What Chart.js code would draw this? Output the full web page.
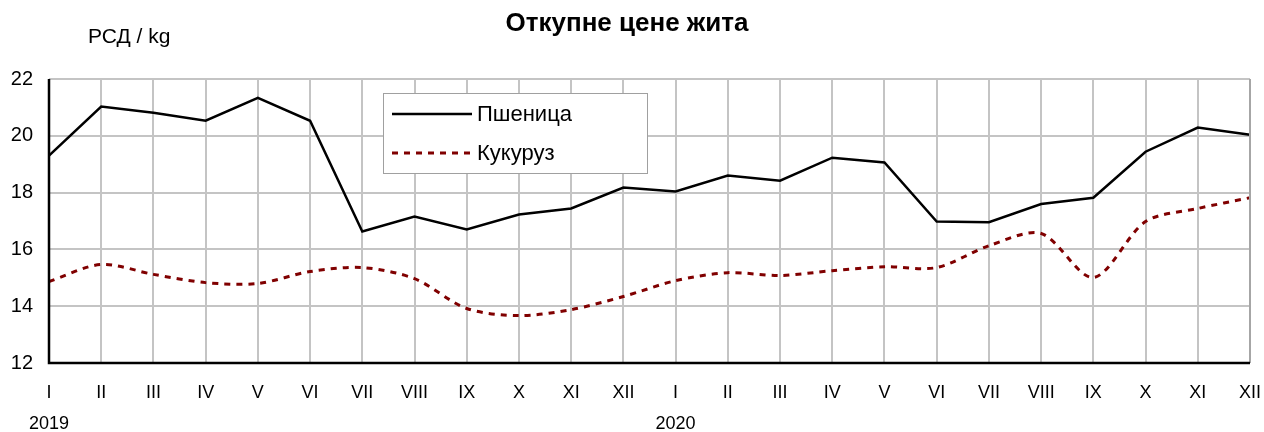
<!DOCTYPE html>
<html>
<head>
<meta charset="utf-8">
<script src="https://cdn.jsdelivr.net/npm/chart.js@4.4.1/dist/chart.umd.min.js"></script>
<style>
html,body{margin:0;padding:0;background:#fff;}
#wrap{width:1264px;height:432px;position:relative;}
</style>
</head>
<body>
<div id="wrap"><canvas id="c" width="1264" height="432"></canvas></div>
<script>
const months = ["I","II","III","IV","V","VI","VII","VIII","IX","X","XI","XII"];
const years = ["2019","2020"];
const wheat = [19.30,21.03,20.81,20.53,21.34,20.53,16.63,17.16,16.70,17.23,17.44,18.18,
               18.04,18.60,18.42,19.23,19.06,16.98,16.96,17.60,17.82,19.44,20.29,20.04];
const corn  = [14.87,15.47,15.12,14.83,14.80,15.22,15.36,14.97,13.92,13.67,13.88,14.34,
               14.90,15.18,15.08,15.25,15.39,15.36,16.13,16.56,15.01,16.98,17.44,17.82];
const seriesNames = ["Пшеница","Кукуруз"];
const titleText = "Откупне цене жита";
const unitText = "РСД / kg";
const yMin = 12, yMax = 22, yStep = 2;

const labels = [];
years.forEach(y => months.forEach((m,i) => labels.push(i===0 ? [m, y] : [m, ""])));

const FONT = "'Liberation Sans', Arial, sans-serif";

const decor = {
  id: 'decor',
  afterDraw(chart) {
    const ctx = chart.ctx;
    const a = chart.chartArea;
    ctx.save();
    ctx.fillStyle = '#000';
    ctx.font = "bold 26px " + FONT;
    ctx.textAlign = 'center';
    ctx.textBaseline = 'middle';
    ctx.fillText(titleText, 627, 24);
    ctx.font = "21px " + FONT;
    ctx.textAlign = 'left';
    ctx.fillText(unitText, 88, 37);
    ctx.strokeStyle = '#a6a6a6';
    ctx.lineWidth = 2;
    ctx.beginPath();
    ctx.moveTo(a.right, a.top); ctx.lineTo(a.right, a.bottom);
    ctx.stroke();
    ctx.strokeStyle = '#000';
    ctx.lineWidth = 2.5;
    ctx.beginPath();
    ctx.moveTo(a.left, a.top); ctx.lineTo(a.left, a.bottom); ctx.lineTo(a.right, a.bottom);
    ctx.stroke();
    // legend
    const lx = 383, ly = 93, lw = 264, lh = 80;
    ctx.fillStyle = '#fff';
    ctx.fillRect(lx, ly, lw, lh);
    ctx.strokeStyle = '#a0a0a0';
    ctx.lineWidth = 1;
    ctx.strokeRect(lx + 0.5, ly + 0.5, lw, lh);
    ctx.lineWidth = 2.5;
    ctx.strokeStyle = '#000';
    ctx.beginPath(); ctx.moveTo(392, 114); ctx.lineTo(472, 114); ctx.stroke();
    ctx.strokeStyle = '#800000';
    ctx.lineWidth = 3;
    ctx.setLineDash([6,6]);
    ctx.beginPath(); ctx.moveTo(392, 153); ctx.lineTo(474, 153); ctx.stroke();
    ctx.setLineDash([]);
    ctx.fillStyle = '#000';
    ctx.font = "22px " + FONT;
    ctx.textAlign = 'left';
    ctx.textBaseline = 'middle';
    ctx.fillText(seriesNames[0], 477, 115);
    ctx.fillText(seriesNames[1], 477, 154);
    ctx.restore();
  }
};

new Chart(document.getElementById('c'), {
  type: 'line',
  data: {
    labels: labels,
    datasets: [
      { label: seriesNames[0], data: wheat, borderColor: '#000', borderWidth: 2.5,
        pointRadius: 0, tension: 0, fill: false },
      { label: seriesNames[1], data: corn, borderColor: '#800000', borderWidth: 3,
        borderDash: [6,6], pointRadius: 0, tension: 0.3, fill: false }
    ]
  },
  options: {
    responsive: false,
    animation: false,
    devicePixelRatio: 1,
    layout: { padding: { left: 0, right: 4, top: 79, bottom: 0 } },
    plugins: { legend: { display: false }, title: { display: false }, tooltip: { enabled: false } },
    scales: {
      x: {
        offset: false,
        grid: { color: '#c4c4c4', lineWidth: 2, drawTicks: false },
        border: { display: false },
        ticks: { color: '#000', font: { family: FONT, size: 18, lineHeight: 1.75 }, padding: 14,
                 maxRotation: 0, autoSkip: false },
        afterFit(s) { s.height = 69; s.paddingRight = 14; s.paddingLeft = 0; }
      },
      y: {
        min: yMin, max: yMax,
        grid: { color: '#c4c4c4', lineWidth: 2, drawTicks: false },
        border: { display: false },
        ticks: { stepSize: yStep, color: '#000', font: { family: FONT, size: 20 }, padding: 16 },
        afterFit(s) { s.width = 49; }
      }
    }
  },
  plugins: [decor]
});
</script>
</body>
</html>
